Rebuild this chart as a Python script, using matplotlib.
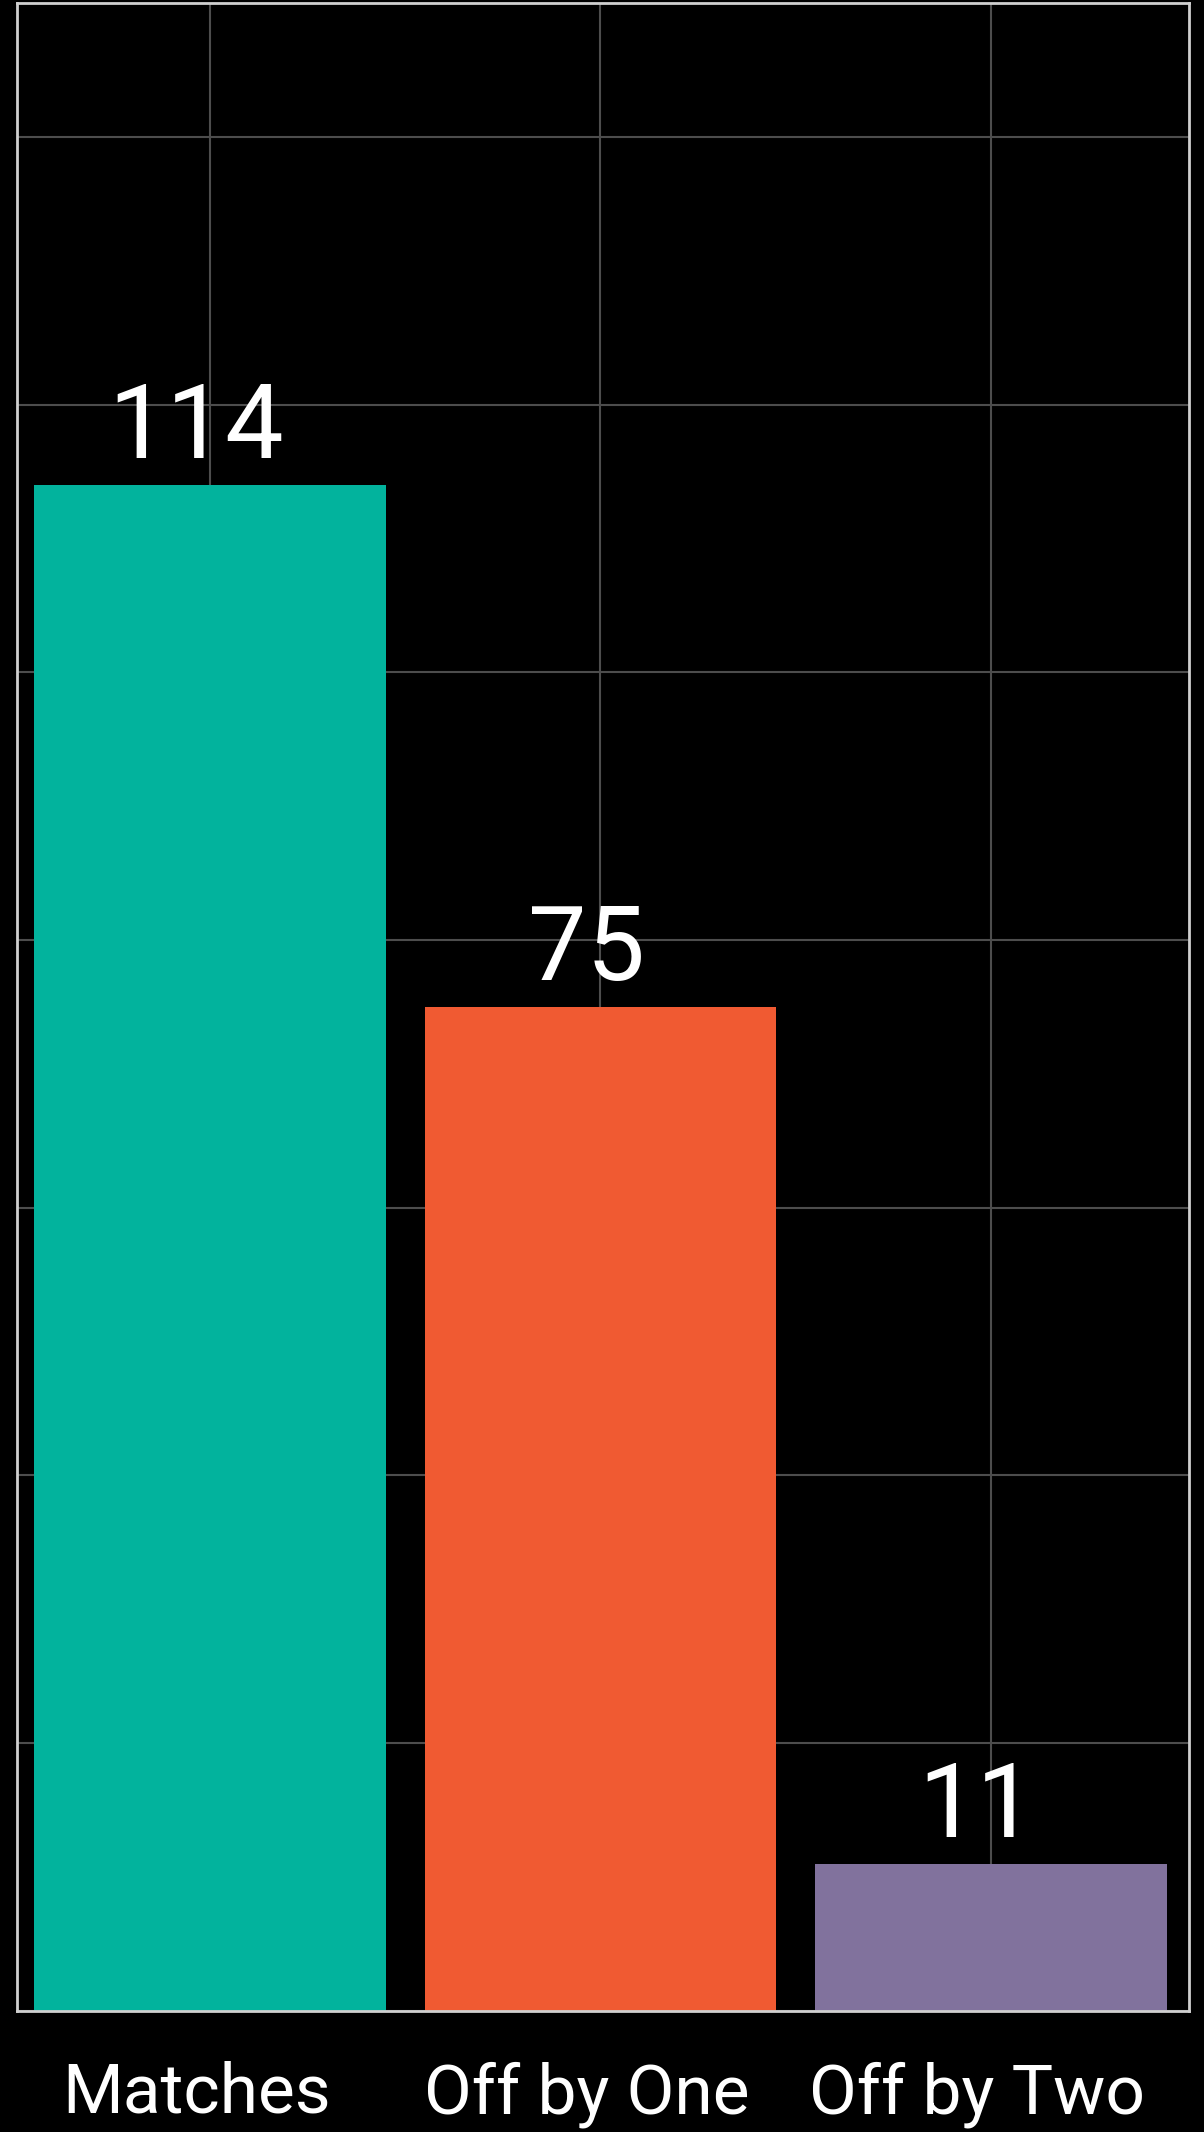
""" Match outcome bar chart """
import matplotlib
matplotlib.use('Agg')
import matplotlib.pyplot as plt
from matplotlib.transforms import ScaledTranslation

plt.rcParams['font.family'] = ['Roboto', 'DejaVu Sans']

categories = ['Matches', 'Off by One', 'Off by Two']
counts = [114, 75, 11]
colors = ['#02b39d', '#f05a32', '#81729d']

fig = plt.figure(figsize=(12.04, 21.32), dpi=100, facecolor='black')
ax = fig.add_axes([0.0145, 0.0568, 0.973, 0.9418])
ax.set_facecolor('black')

positions = list(range(len(categories)))
bars = ax.bar(positions, counts, width=0.9, color=colors, zorder=2)

# value above each bar
for rect, value in zip(bars, counts):
    ax.annotate(str(value),
                xy=(rect.get_x() + rect.get_width() / 2, rect.get_height()),
                xytext=(-10, 19.5), textcoords='offset points',
                ha='center', va='baseline', fontsize=75, color='white')

ax.set_xlim(-0.493, 2.507)
ax.set_ylim(0, 150)
ax.set_xticks(positions)
ax.set_xticklabels(categories, fontsize=50, color='white')
ax.set_yticks(range(0, 151, 20))
ax.set_yticklabels([])
ax.tick_params(axis='both', length=0)
ax.tick_params(axis='x', pad=36)

# nudge category labels a little to the left
shift = ScaledTranslation(-10 / 72, 0, fig.dpi_scale_trans)
for lbl in ax.get_xticklabels():
    lbl.set_transform(lbl.get_transform() + shift)

ax.grid(True, color='#4d4d4d', linewidth=1.5, zorder=0)
ax.set_axisbelow(True)
for spine in ax.spines.values():
    spine.set_color('#d0d0d0')
    spine.set_linewidth(2)

fig.savefig('out.png', dpi=100, facecolor='black')
